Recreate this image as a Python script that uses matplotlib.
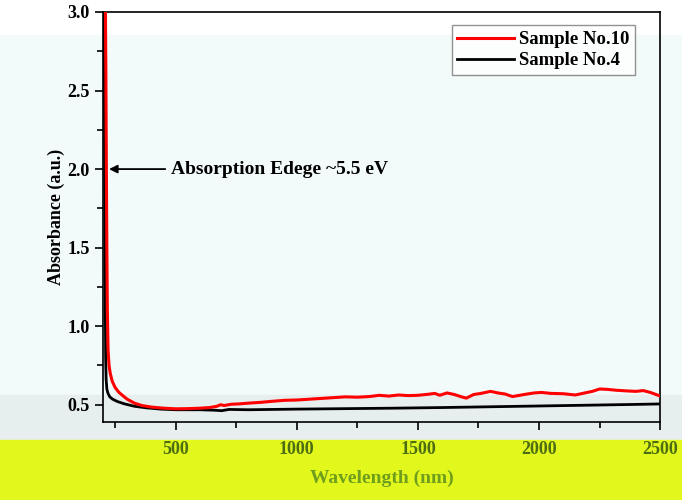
import numpy as np
import matplotlib as mpl
mpl.use('Agg')
import matplotlib.pyplot as plt
from matplotlib.patches import Rectangle
from matplotlib.ticker import MultipleLocator

# values
wl_red = [210, 212, 214, 216, 218, 221, 225, 230, 238, 250, 265, 280, 300, 330, 360, 400, 450,
          500, 550, 600, 640, 670, 685, 700, 730, 760, 800, 850, 900, 950, 1000, 1050, 1100,
          1150, 1200, 1250, 1300, 1340, 1380, 1420, 1460, 1500, 1540, 1570, 1590, 1620, 1650,
          1680, 1700, 1730, 1760, 1800, 1830, 1860, 1890, 1920, 1950, 1980, 2010, 2050, 2100,
          2150, 2180, 2220, 2250, 2280, 2320, 2360, 2400, 2430, 2460, 2500]
abs_red = [3.05, 2.6, 2.0, 1.5, 1.1, 0.85, 0.75, 0.7, 0.65, 0.61, 0.58, 0.56, 0.535, 0.51, 0.495, 0.485, 0.478,
           0.474, 0.475, 0.478, 0.482, 0.49, 0.5, 0.495, 0.503, 0.505, 0.51, 0.515, 0.522, 0.528, 0.53, 0.535, 0.54,
           0.545, 0.55, 0.548, 0.552, 0.56, 0.555, 0.562, 0.558, 0.56, 0.566, 0.572, 0.56, 0.575, 0.565,
           0.55, 0.542, 0.565, 0.572, 0.585, 0.575, 0.568, 0.552, 0.56, 0.568, 0.575, 0.578, 0.572, 0.57,
           0.562, 0.572, 0.585, 0.6, 0.598, 0.592, 0.588, 0.585, 0.59, 0.578, 0.555]

wl_blk = [205, 207, 209, 211, 213, 216, 220, 228, 240, 260, 290, 330, 380, 440, 500, 600, 660,
          690, 720, 800, 900, 1000, 1200, 1400, 1600, 1800, 2000, 2200, 2400, 2500]
abs_blk = [3.05, 2.2, 1.3, 0.8, 0.66, 0.6, 0.575, 0.55, 0.535, 0.52, 0.505, 0.49, 0.48, 0.472, 0.468, 0.468, 0.465,
           0.462, 0.47, 0.468, 0.47, 0.472, 0.475, 0.478, 0.482, 0.487, 0.492, 0.497, 0.502, 0.505]

labels = ['Sample No.10', 'Sample No.4']
note = 'Absorption Edege ~5.5 eV'

plt.rcParams['font.family'] = 'Liberation Serif'
plt.rcParams['font.weight'] = 'bold'

fig = plt.figure(figsize=(6.82, 5.0), dpi=100)
fig.patch.set_facecolor('white')
# pale tint and yellow band seen in the reference
fig.patches.append(Rectangle((0, 0.21), 1, 0.72, transform=fig.transFigure,
                             color='#f3fafa', zorder=-10))
fig.patches.append(Rectangle((0, 0.12), 1, 0.09, transform=fig.transFigure,
                             color='#e6efee', zorder=-10))
fig.patches.append(Rectangle((0, 0), 1, 0.12, transform=fig.transFigure,
                             color='#e2f81c', zorder=-10))

ax = fig.add_axes([0.151, 0.156, 0.817, 0.82])
ax.set_facecolor('none')

ax.plot(wl_red, abs_red, color='red', lw=2.2, label=labels[0], zorder=3)
ax.plot(wl_blk, abs_blk, color='black', lw=2.0, label=labels[1], zorder=2)

ax.set_xlim(200, 2500)
ax.set_ylim(0.39, 3.0)
ax.xaxis.set_major_locator(MultipleLocator(500))
ax.xaxis.set_minor_locator(MultipleLocator(250))
ax.yaxis.set_major_locator(MultipleLocator(0.5))
ax.yaxis.set_minor_locator(MultipleLocator(0.25))
ax.set_xticks([500, 1000, 1500, 2000, 2500])
ax.tick_params(which='both', direction='out', width=1.2)
ax.tick_params(which='major', length=6, labelsize=13)
ax.tick_params(which='minor', length=4)
ax.tick_params(axis='x', labelcolor='#4d6d12', pad=8)
for s in ax.spines.values():
    s.set_linewidth(1.2)
for t in ax.get_xticklabels() + ax.get_yticklabels():
    t.set_fontweight('bold')

ax.set_xlabel('Wavelength (nm)', fontsize=14, fontweight='bold', color='#6e9e1c', labelpad=8)
ax.set_ylabel('Absorbance (a.u.)', fontsize=13, fontweight='bold', labelpad=2)

ax.annotate(note, xy=(225, 2.0), xytext=(480, 2.0), fontsize=14, fontweight='bold',
            va='center', ha='left',
            arrowprops=dict(arrowstyle='-|>', color='black', lw=1.3,
                            shrinkA=2, shrinkB=0, mutation_scale=12))

leg = ax.legend(loc='upper right', bbox_to_anchor=(0.972, 0.99), fontsize=13.5,
                frameon=True, fancybox=False, handlelength=3.0, borderpad=0.3,
                labelspacing=0.2, handletextpad=0.3)
leg.get_frame().set_edgecolor('#777777')
leg.get_frame().set_linewidth(1.0)
for t in leg.get_texts():
    t.set_fontweight('bold')

fig.savefig('out.png', dpi=100)
